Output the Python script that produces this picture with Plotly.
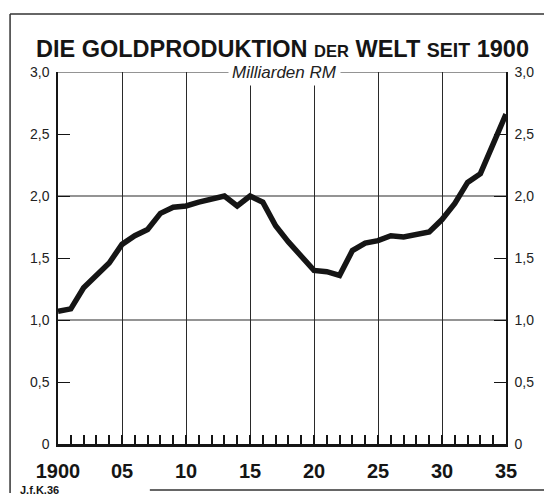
import plotly.graph_objects as go

years = list(range(1900, 1936))
production = [1.07, 1.09, 1.26, 1.36, 1.46, 1.61, 1.68, 1.73, 1.86, 1.91,
              1.92, 1.95, 1.98, 2.00, 1.92, 2.00, 1.95, 1.76, 1.63, 1.52,
              1.40, 1.39, 1.36, 1.56, 1.62, 1.64, 1.68, 1.67, 1.69, 1.71,
              1.81, 1.94, 2.11, 2.18, 2.42, 2.66]
x_tick_vals = [1900, 1905, 1910, 1915, 1920, 1925, 1930, 1935]
x_tick_text = ["1900", "05", "10", "15", "20", "25", "30", "35"]
y_tick_vals = [0, 0.5, 1.0, 1.5, 2.0, 2.5, 3.0]
y_tick_text = ["0", "0,5", "1,0", "1,5", "2,0", "2,5", "3,0"]
grid_levels = [1.0, 2.0, 3.0]

INK = "#151515"
FONT = "Liberation Sans"

fig = go.Figure()
fig.add_trace(go.Scatter(x=years, y=production, mode="lines",
                         line=dict(color=INK, width=5.5), showlegend=False,
                         hoverinfo="skip"))
fig.add_trace(go.Scatter(x=years, y=production, mode="lines", yaxis="y2",
                         line=dict(color="rgba(0,0,0,0)", width=0),
                         showlegend=False, hoverinfo="skip"))

yax = dict(range=[0, 3], tickmode="array", tickvals=y_tick_vals, ticktext=y_tick_text,
           showgrid=False, zeroline=False, showline=True, linecolor=INK, linewidth=1.5,
           ticks="inside", ticklen=12, tickwidth=1.2, tickcolor=INK,
           tickfont=dict(family=FONT, size=14, color="#222"), ticklabelstandoff=4,
           fixedrange=True)

# page has an 8px body margin, so the figure is 544x488 to fill the 552x496 window
fig.update_layout(
    width=544, height=488,
    margin=dict(l=50, r=46, t=64, b=52, pad=0),
    paper_bgcolor="white", plot_bgcolor="white",
    xaxis=dict(range=[1900, 1935], tickmode="array", tickvals=x_tick_vals,
               ticktext=x_tick_text, showgrid=True, gridcolor="#2a2a2a", gridwidth=1.2,
               zeroline=False, showline=True, linecolor=INK, linewidth=2.5,
               ticks="inside", ticklen=9, tickwidth=1.5, tickcolor=INK,
               minor=dict(dtick=1, tick0=1900, ticks="inside", ticklen=9,
                          tickwidth=1.5, tickcolor=INK, showgrid=False),
               tickfont=dict(family=FONT, size=20, color=INK, weight="bold"),
               ticklabelstandoff=7, fixedrange=True),
    yaxis=yax,
    yaxis2=dict(yax, overlaying="y", side="right"),
)

for v in grid_levels:
    fig.add_hline(y=v, line=dict(color="#2a2a2a", width=1.2), layer="below")

# frame around the chart
frame = [(-0.107, 1.156, 1.096, 1.156),    # top
         (-0.107, 1.156, -0.107, -0.132),  # left
         (1.096, 1.156, 1.096, -0.1237),   # right
         (0.205, -0.1237, 1.096, -0.1237)] # bottom (partial)
for x0, y0, x1, y1 in frame:
    fig.add_shape(type="line", xref="paper", yref="paper", x0=x0, y0=y0, x1=x1, y1=y1,
                  line=dict(color="#333", width=1.5))

fig.add_annotation(
    text="DIE GOLDPRODUKTION <span style='font-size:16.5px'>DER</span> WELT "
         "<span style='font-size:19.5px'>SEIT</span> 1900",
    xref="paper", yref="paper", x=0.502, y=1.0, yshift=8, xanchor="center",
    yanchor="bottom", showarrow=False,
    font=dict(family=FONT, size=23.5, color=INK, weight="bold"))
fig.add_annotation(
    text="<i>Milliarden RM</i>", xref="paper", yref="paper", x=0.505, y=1.0,
    xanchor="center", yanchor="middle", showarrow=False, bgcolor="white",
    borderpad=3, font=dict(family=FONT, size=17, color="#222"))
fig.add_annotation(
    text="J.f.K.36", xref="paper", yref="paper", x=-0.09, y=-0.123,
    xanchor="left", yanchor="middle", showarrow=False,
    font=dict(family=FONT, size=11, color=INK, weight="bold"))

fig.write_html("out.html")
